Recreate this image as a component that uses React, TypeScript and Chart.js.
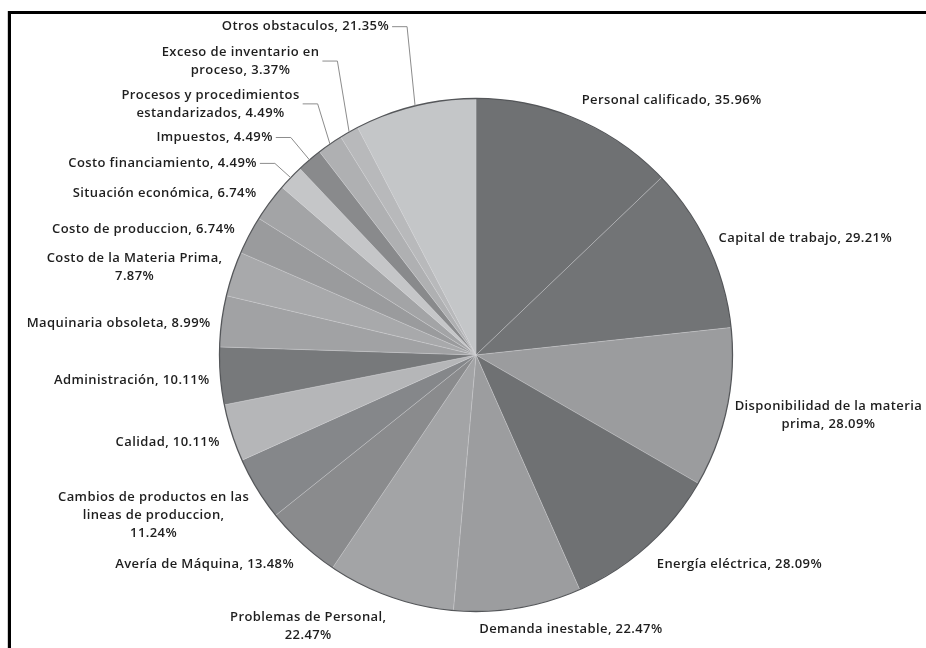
import React, { useEffect, useRef } from "react";
import { Chart, registerables } from "chart.js";

Chart.register(...registerables);

// Categories in clockwise order starting at 12 o'clock ("\n" marks a line break in the label)
const CATEGORIES: string[] = [
  "Personal calificado",
  "Capital de trabajo",
  "Disponibilidad de la materia\nprima",
  "Energía eléctrica",
  "Demanda inestable",
  "Problemas de Personal",
  "Avería de Máquina",
  "Cambios de productos en las\nlineas de produccion",
  "Calidad",
  "Administración",
  "Maquinaria obsoleta",
  "Costo de la Materia Prima",
  "Costo de produccion",
  "Situación económica",
  "Costo financiamiento",
  "Impuestos",
  "Procesos y procedimientos\nestandarizados",
  "Exceso de inventario en\nproceso",
  "Otros obstaculos",
];

const VALUES: number[] = [
  35.96, 29.21, 28.09, 28.09, 22.47, 22.47, 13.48, 11.24, 10.11, 10.11, 8.99,
  7.87, 6.74, 6.74, 4.49, 4.49, 4.49, 3.37, 21.35,
];

// whether the percentage goes on its own line
const VALUE_ON_NEW_LINE: boolean[] = [
  false, false, false, false, false, true, false, true, false, false, false,
  true, false, false, false, false, false, false, false,
];

const COLORS: string[] = [
  "#6f7173", "#727476", "#9b9c9e", "#6f7173", "#9c9d9f", "#a3a4a6", "#8a8b8d",
  "#85878a", "#b5b6b8", "#77797b", "#a1a2a4", "#a8a9ab", "#9a9b9d", "#a3a4a6",
  "#c5c6c8", "#898a8c", "#afb0b2", "#b8b9bb", "#c4c6c8",
];

// label centre, relative to pie centre, in units of the pie radius
const LABEL_POS: [number, number][] = [
  [0.763, -0.992], [1.284, -0.455], [1.374, 0.237], [1.027, 0.817],
  [0.37, 1.07], [-0.654, 1.058], [-1.058, 0.817], [-1.257, 0.626],
  [-1.202, 0.339], [-1.342, 0.097], [-1.393, -0.125], [-1.331, -0.342],
  [-1.296, -0.49], [-1.214, -0.63], [-1.222, -0.747], [-1.019, -0.848],
  [-1.035, -0.979], [-0.918, -1.146], [-0.665, -1.28],
];

const HAS_LEADER: boolean[] = [
  false, false, false, false, false, false, false, false, false, false, false,
  false, false, false, true, true, true, true, true,
];

function labelLines(i: number): string[] {
  const v = VALUES[i].toFixed(2) + "%";
  const lines = CATEGORIES[i].split("\n");
  if (VALUE_ON_NEW_LINE[i]) {
    lines[lines.length - 1] += ",";
    lines.push(v);
  } else {
    lines[lines.length - 1] += ", " + v;
  }
  return lines;
}

const framePlugin = {
  id: "frame",
  beforeDraw(chart: any) {
    const { ctx, width, height } = chart;
    ctx.save();
    ctx.fillStyle = "#ffffff";
    ctx.fillRect(0, 0, width, height);
    ctx.fillStyle = "#d0d0d0";
    ctx.fillRect(7, 11, 1, height - 11);
    ctx.fillStyle = "#000000";
    ctx.fillRect(8, 11, 3, height - 11);
    ctx.fillRect(8, 11, width - 8, 3);
    ctx.restore();
  },
};

const labelPlugin = {
  id: "pieLabels",
  afterDatasetsDraw(chart: any) {
    const ctx = chart.ctx;
    const meta = chart.getDatasetMeta(0);
    const a0 = meta.data[0];
    const cx = a0.x;
    const cy = a0.y;
    const r = a0.outerRadius;
    ctx.save();
    ctx.beginPath();
    ctx.arc(cx, cy, r, 0, Math.PI * 2);
    ctx.strokeStyle = "#55575a";
    ctx.lineWidth = 1.3;
    ctx.stroke();

    ctx.font = "600 13px 'Open Sans'";
    (ctx as any).letterSpacing = "0.4px";
    ctx.textAlign = "center";
    ctx.textBaseline = "middle";
    const lh = 18;
    CATEGORIES.forEach((_, i) => {
      const lines = labelLines(i);
      const [dx, dy] = LABEL_POS[i];
      const x = cx + dx * r;
      const y = cy + dy * r;
      const y0 = y - ((lines.length - 1) * lh) / 2;
      ctx.fillStyle = "#1e1e1e";
      lines.forEach((l, j) => ctx.fillText(l, x, y0 + j * lh));
      if (HAS_LEADER[i]) {
        const w = Math.max(...lines.map((l) => ctx.measureText(l).width));
        const arc = meta.data[i];
        const mid = (arc.startAngle + arc.endAngle) / 2;
        const ex = cx + Math.cos(mid) * r;
        const ey = cy + Math.sin(mid) * r;
        const sx = x + w / 2 + 3;
        ctx.beginPath();
        ctx.moveTo(sx, y);
        ctx.lineTo(sx + 15, y);
        ctx.lineTo(ex, ey);
        ctx.strokeStyle = "#8c8c8c";
        ctx.lineWidth = 1;
        ctx.stroke();
      }
    });
    ctx.restore();
  },
};

export default function App() {
  const ref = useRef<HTMLCanvasElement | null>(null);
  useEffect(() => {
    document.body.style.margin = "0";
    if (!ref.current) return;
    const chart = new Chart(ref.current, {
      type: "pie",
      data: {
        labels: CATEGORIES.map((c) => c.replace("\n", " ")),
        datasets: [
          {
            data: VALUES,
            backgroundColor: COLORS,
            borderColor: "rgba(215,216,218,0.3)",
            borderWidth: 1,
          },
        ],
      },
      options: {
        responsive: false,
        animation: false,
        layout: { padding: { left: 219, right: 193, top: 98, bottom: 36 } },
        plugins: { legend: { display: false }, tooltip: { enabled: false } },
      },
      plugins: [framePlugin, labelPlugin],
    });
    return () => chart.destroy();
  }, []);
  return (
    <div style={{ width: 926, height: 648 }}>
      <canvas ref={ref} width={926} height={648} style={{ display: "block" }} />
    </div>
  );
}
